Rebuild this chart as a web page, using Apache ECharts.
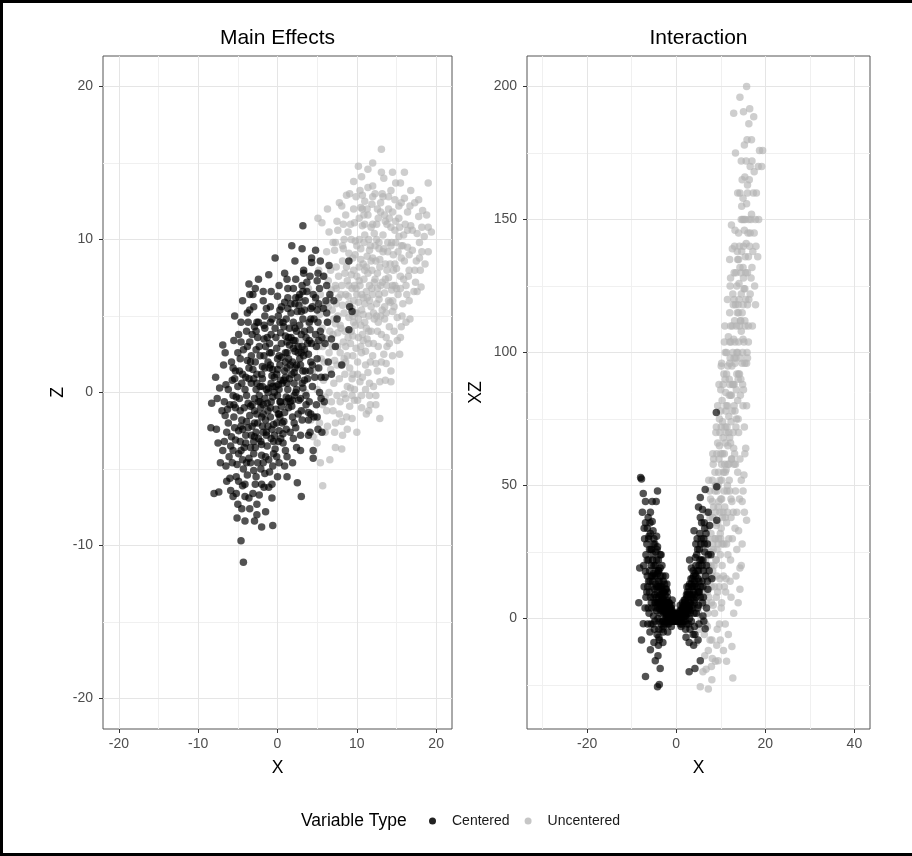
<!DOCTYPE html>
<html>
<head>
<meta charset="utf-8">
<script src="https://cdn.jsdelivr.net/npm/echarts@6/dist/echarts.min.js"></script>
<style>
html, body { margin: 0; padding: 0; background: #fff; }
#chart { width: 912px; height: 856px; }
</style>
</head>
<body>
<div id="chart"></div>
<script>
// tick values for both panels
const xMainTicks = [-20, -10, 0, 10, 20];
const xMainMinor = [-15, -5, 5, 15];
const zTicks = [-20, -10, 0, 10, 20];
const zMinor = [-15, -5, 5, 15];
const xIntTicks = [-20, 0, 20, 40];
const xIntMinor = [-30, -10, 10, 30];
const xzTicks = [0, 50, 100, 150, 200];
const xzMinor = [-25, 25, 75, 125, 175];

const legendNames = ["Centered", "Uncentered"];

// Main Effects, centered: [X, Z]
const centeredMain = [
  [-8.3,-0.7],[-8.4,-2.3],[-7.7,-2.4],[-7.8,1.0],[-7.3,0.3],[-6.9,3.1],[-5.8,2.0],[-6.7,-0.6],[-6.5,0.5],[-4.6,3.3],
  [-4.4,6.0],[-3.5,5.4],[-3.6,7.1],[-1.1,7.7],[0.9,7.8],[3.1,9.4],[3.2,10.9],[4.3,8.5],[5.4,8.6],[-1.8,6.0],
  [-2.6,4.6],[-8.0,-6.6],[-7.4,-6.5],[-5.6,-6.8],[-4.1,-6.8],[-2.3,-6.7],[-0.7,-6.9],[3.0,-6.8],[2.5,-5.9],[1.2,-5.5],
  [-6.0,-5.6],[-6.5,-4.8],[-6.9,-3.8],[-7.5,-3.3],[4.5,-3.8],[4.5,-4.3],[3.9,-1.8],[5.1,-2.4],[5.6,-2.6],[-4.6,-9.7],
  [-4.3,-11.1],[-2.9,-8.4],[-2.0,-8.8],[-0.6,-8.7],[-3.5,-7.6],[-5.0,-7.3],[-1.5,-7.8],[9.0,8.6],[9.1,5.6],[9.4,5.3],
  [9.0,4.1],[8.1,1.8],[6.5,8.3],[6.2,7.0],[7.1,6.0],[6.8,3.5],[7.5,4.8],[6.0,1.0],[5.8,5.5],[2.2,8.6],
  [1.8,9.6],[-0.3,8.8],[-2.4,7.4],[4.8,9.3],
  [-6.2,-2.0],[-5.9,-3.5],[-6.3,-1.1],[-5.7,0.8],[-6.1,-4.2],[-5.5,-1.6],[-5.8,-2.9],
  [-5.2,-0.3],[-4.9,-2.5],[-5.1,-4.7],[-4.8,1.4],[-5.3,-3.1],[-4.7,-1.2],[-5.0,2.6],[-4.9,-5.8],[-5.4,0.9],
  [-4.2,-3.6],[-3.9,-1.9],[-4.1,0.2],[-3.8,2.1],[-4.3,-5.0],[-3.7,-0.7],[-4.0,-2.8],[-3.9,4.0],[-4.4,1.2],[-3.6,-4.3],[-4.1,-6.0],[-3.8,3.0],
  [-3.2,-2.2],[-2.9,-0.4],[-3.1,1.5],[-2.8,-3.6],[-3.3,0.6],[-2.7,2.8],[-3.0,-5.1],[-2.6,-1.4],[-3.2,3.8],[-2.9,-2.9],[-3.4,-4.6],[-2.7,0.2],[-3.0,5.6],[-2.8,-6.0],
  [-2.1,-1.0],[-1.9,0.9],[-2.2,2.4],[-1.8,-2.6],[-2.0,-4.1],[-1.7,3.5],[-2.3,-0.2],[-1.9,1.7],[-2.1,-3.2],[-1.6,-5.3],[-2.4,4.6],[-1.8,-0.8],[-2.2,0.4],[-1.7,-6.2],
  [-1.1,0.3],[-0.9,-1.6],[-1.2,2.0],[-0.8,-3.0],[-1.0,3.2],[-1.3,-0.7],[-0.7,1.1],[-1.1,-4.4],[-0.9,4.6],[-1.2,-2.2],[-0.6,-0.3],[-1.4,5.5],[-0.8,2.6],[-1.0,-5.2],
  [0.1,0.5],[-0.2,-1.1],[0.3,1.8],[-0.1,2.9],[0.2,-2.5],[0.0,-0.2],[0.4,3.9],[-0.3,-3.7],[0.1,5.0],[0.2,-4.6],[-0.1,1.2],[0.3,-1.6],[0.0,6.3],[0.4,0.8],
  [0.9,1.4],[1.1,-0.3],[1.2,2.6],[0.8,-1.9],[1.0,3.7],[1.3,0.2],[0.7,-3.3],[1.1,4.8],[1.4,-1.0],[0.9,5.9],[1.2,-4.2],[1.0,1.0],[1.5,3.1],
  [1.9,2.0],[2.1,0.6],[2.2,3.4],[1.8,-0.9],[2.0,4.6],[2.3,-2.3],[1.7,5.8],[2.1,1.3],[2.4,-3.6],[2.0,6.8],[1.9,-1.6],[2.2,2.7],
  [2.9,1.8],[3.1,3.0],[2.8,4.4],[3.2,0.3],[3.0,-1.2],[2.7,5.7],[3.3,2.4],[3.1,7.0],[2.9,-2.8],[3.4,4.0],
  [3.9,2.5],[4.1,4.1],[3.8,0.9],[4.2,5.5],[4.0,-0.6],[3.7,6.6],[4.3,3.2],[4.1,7.6],
  [4.9,3.0],[5.1,4.6],[5.2,1.6],[4.8,6.2],[5.3,0.0],[5.0,7.3],
  [-3.5,-1.5],[-3.3,-2.8],[-2.5,-2.0],[-2.4,-0.6],[-2.6,1.2],[-1.5,-1.8],[-1.4,0.2],[-1.6,1.6],[-1.3,-3.5],[-0.5,-2.1],
  [-0.4,0.0],[-0.6,1.5],[-0.2,3.6],[0.5,-0.9],[0.6,0.6],[0.5,2.3],[0.7,-2.7],[1.5,0.9],[1.6,-0.6],[1.4,2.2],
  [1.7,3.6],[2.5,1.0],[2.6,2.6],[2.4,4.0],[2.7,-0.5],[3.5,1.4],[3.6,3.6],[3.4,5.4],[3.6,-0.2],[-3.6,0.9],
  [-4.5,-1.8],[-4.6,-3.8],[-5.6,-3.8],[-5.5,-0.8],[-3.0,-3.2],[-1.2,-1.2],[0.3,-0.6],[1.2,1.6],[2.3,0.0],[-2.0,-1.6],
  [-0.8,0.6],[0.8,4.3],[-1.6,4.2],[-3.4,2.0],[4.4,1.8],[4.6,4.8],[2.8,6.4],[-0.5,-4.0],[-2.5,-4.6],[-4.4,-4.4],
  [-6.4,-2.6],[-6.6,-1.5],[-6.2,0.2],[-6.7,-3.2],
  [-5.4,-2.3],[-5.6,-0.2],[-5.3,1.4],[-5.7,-4.6],[-5.2,-5.5],[-5.5,3.4],
  [-4.6,-2.2],[-4.8,-0.4],[-4.5,0.6],[-4.7,2.2],[-4.9,-4.0],[-4.4,-6.1],[-4.6,4.6],[-5.1,-8.2],
  [-3.7,-2.3],[-3.9,-0.2],[-3.6,1.6],[-3.8,-5.4],[-3.5,3.3],[-4.0,-3.3],[-3.6,-6.9],[-3.4,-0.9],[-3.8,5.2],
  [-2.7,-2.6],[-2.9,-1.2],[-2.6,0.6],[-2.8,2.0],[-3.0,-4.0],[-2.5,3.6],[-2.7,-5.5],[-2.9,4.3],[-2.6,-7.3],[-3.1,6.4],
  [-1.8,-1.4],[-1.6,-0.4],[-1.9,0.4],[-1.7,2.4],[-2.0,-3.4],[-1.5,3.0],[-1.8,-4.6],[-1.6,5.0],[-2.0,-6.0],[-1.4,-2.6],
  [-0.8,-0.6],[-0.6,0.4],[-0.9,1.8],[-0.7,-2.4],[-1.0,2.6],[-0.5,-3.2],[-0.8,3.8],[-0.6,-4.8],[-0.9,5.6],[-0.4,1.0],[-0.7,-6.0],
  [0.2,0.2],[0.0,1.5],[0.4,-0.6],[0.2,2.4],[-0.1,-2.0],[0.5,3.2],[0.1,-3.2],[0.3,4.6],[0.0,-5.5],[0.5,5.6],[0.2,-1.4],
  [1.2,0.6],[1.0,2.0],[1.4,-0.4],[1.2,3.3],[0.9,-1.3],[1.5,4.2],[1.1,-2.4],[1.3,5.5],[1.0,-3.8],[1.6,1.8],[1.3,6.8],
  [2.2,1.6],[2.0,2.9],[2.4,0.2],[2.2,4.2],[1.9,-0.5],[2.5,5.3],[2.1,-2.0],[2.3,6.2],[2.0,-3.0],[2.6,3.0],
  [3.2,1.4],[3.0,2.6],[3.4,0.8],[3.2,4.8],[2.9,-0.4],[3.5,6.0],[3.1,-1.8],[3.3,7.8],[3.0,5.3],
  [4.2,2.0],[4.0,3.4],[4.4,0.4],[4.2,4.8],[3.9,-1.3],[4.5,6.4],[4.1,-2.6],
  [5.2,3.4],[5.0,2.2],[5.4,4.0],[5.2,5.8],[4.9,-0.8],[5.5,1.0],[5.0,-1.6],
  [6.0,3.2],[6.3,4.6],[5.9,-0.6],[6.4,2.0],[6.1,6.0],
  [-7.0,-1.2],[-7.2,-4.6],[-6.8,1.8],[-7.6,-0.4],[-6.4,-5.8],[-6.0,-0.8],[-6.6,2.6],[-5.9,-6.4],
  [-5.3,-1.0],[-5.0,0.4],[-5.6,1.6],[-4.7,-3.2],[-5.2,-6.6],[-4.9,3.8],[-5.4,5.0],[-4.5,-7.6],
  [-4.2,-1.0],[-4.0,1.0],[-4.3,2.8],[-3.9,-4.6],[-4.4,-2.4],[-3.7,4.6],[-4.1,-8.4],[-3.5,6.4],
  [-3.2,-0.8],[-3.0,0.9],[-3.3,2.4],[-2.9,-2.0],[-3.4,-3.6],[-2.7,4.0],[-3.1,-6.6],[-2.8,6.8],
  [-2.2,-0.6],[-2.0,1.2],[-2.3,3.0],[-1.9,-2.2],[-2.4,-3.0],[-1.7,4.4],[-2.1,-5.0],[-1.8,6.6],[-2.6,-8.0],
  [-1.2,0.0],[-1.0,1.6],[-1.3,3.6],[-0.9,-1.0],[-1.4,-2.8],[-0.7,4.8],[-1.1,-6.2],[-0.8,6.6],[-1.5,-4.2],
  [-0.2,0.4],[0.0,2.2],[-0.3,4.2],[0.1,-1.4],[-0.4,-2.8],[0.3,5.4],[-0.1,-4.2],[0.2,7.0],[0.4,-3.0],
  [0.8,0.8],[1.0,2.6],[0.7,4.6],[1.1,-0.6],[0.6,-2.0],[1.3,6.2],[0.9,-4.8],[1.2,7.4],[1.4,3.6],
  [1.8,1.2],[2.0,3.4],[1.7,5.2],[2.1,-0.2],[1.6,-2.6],[2.3,7.4],[1.9,-4.6],[2.4,1.8],[2.2,5.8],
  [2.8,2.2],[3.0,3.8],[2.7,6.2],[3.1,0.6],[2.6,-1.4],[3.3,8.0],[2.9,-3.8],[3.4,2.8],[3.2,6.6],
  [3.8,3.2],[4.0,4.6],[3.7,7.2],[4.1,1.4],[3.6,-0.8],[4.3,8.8],[3.9,-2.8],[4.4,5.6],[4.2,-1.4],
  [4.8,3.8],[5.0,5.4],[4.7,1.0],[5.1,7.8],[4.6,-1.6],[5.3,6.8],[5.6,3.6],[5.8,7.6],[5.5,-0.4],[6.2,5.2],
  [6.6,6.4],[6.8,1.2],[7.3,3.0]
];

// Main Effects, uncentered: [X, Z]
const uncenteredMain = [
  [5.6,11.1],[6.5,10.5],[8.3,11.0],[7.3,9.8],[19.0,10.8],[19.4,10.5],[19.0,9.2],[18.1,6.9],[17.2,6.6],[16.6,6.0],
  [16.7,4.8],[15.6,4.3],[15.5,3.6],[15.4,2.5],[14.5,2.4],[14.3,1.4],[14.3,0.7],[12.9,0.7],[12.9,-1.7],[12.4,-0.8],
  [9.4,-1.7],[8.2,-2.8],[8.1,-3.7],[7.3,-3.6],[5.7,-6.1],[5.4,-4.6],[4.5,-2.9],
  [13.1,15.9],[13.1,14.4],[14.9,13.7],[15.5,13.7],[10.6,14.1],[10.7,12.9],[8.7,12.9],[7.8,12.4],[19.0,13.7],[16.0,12.7],
  [6.3,12.0],[5.1,11.4],[16.8,13.2],[12.0,13.5],[17.8,11.5],[14.0,12.8],
  [2.1,4.4],[2.3,3.0],[3.2,5.9],[2.6,1.6],[3.5,0.0],[4.2,-1.8],[3.3,-1.2],[5.0,-3.3],[6.6,-4.4],[10.0,-2.6],[11.2,-1.4],[6.2,-1.2],
  [6.1,3.5],[5.9,2.0],[6.3,4.6],[5.8,0.8],[6.2,5.8],[6.0,-0.3],[6.4,7.3],[5.7,3.0],
  [7.0,3.8],[7.2,2.1],[6.9,5.4],[7.1,0.6],[6.8,6.7],[7.3,4.5],[7.0,-1.2],[7.4,8.2],[6.7,1.5],[7.2,9.3],
  [8.0,4.2],[7.9,2.6],[8.2,5.7],[7.8,0.9],[8.1,7.0],[8.3,3.3],[7.9,-0.6],[8.2,8.6],[8.0,1.8],[7.7,6.2],[8.4,10.0],[8.1,-1.9],
  [9.0,4.9],[9.2,3.2],[8.9,6.3],[9.1,1.6],[9.3,7.7],[8.8,2.4],[9.0,9.1],[9.2,0.3],[9.4,5.5],[8.9,10.5],[9.1,-0.9],[9.3,4.0],[8.7,8.2],
  [10.0,5.2],[10.2,3.6],[9.9,6.8],[10.1,2.0],[10.3,8.2],[9.8,4.4],[10.0,9.6],[10.4,0.7],[10.2,5.9],[9.7,11.1],[10.1,-0.5],[10.3,7.3],[9.9,2.9],[10.5,12.1],
  [11.0,5.8],[11.2,4.2],[10.9,7.4],[11.1,2.7],[11.3,8.9],[10.8,5.1],[11.0,10.3],[11.4,1.3],[11.2,6.6],[10.9,11.6],[11.1,0.2],[11.3,3.5],[11.0,12.5],
  [12.0,6.4],[12.2,4.8],[11.9,8.0],[12.1,3.2],[12.3,9.6],[11.8,5.6],[12.0,11.0],[12.4,1.9],[12.2,7.2],[11.9,12.3],[12.1,0.4],
  [13.0,7.0],[13.2,5.4],[12.9,8.7],[13.1,3.8],[13.3,10.3],[12.8,6.1],[13.0,11.8],[13.4,2.5],[13.2,13.0],
  [14.0,7.5],[14.2,5.9],[13.9,9.2],[14.1,4.3],[14.3,10.8],[13.8,3.0],[14.0,12.0],[14.4,6.7],
  [15.0,8.1],[15.2,6.4],[14.9,9.8],[15.1,4.9],[15.3,11.4],[14.8,12.6],
  [16.0,8.6],[16.2,7.0],[15.9,10.3],[16.4,11.8],[17.0,9.3],[17.3,8.0],[16.8,10.9],[17.9,9.8],[18.3,11.9],[18.6,8.4],
  [2.8,3.4],[3.6,2.6],[4.0,4.5],[4.4,1.4],[4.8,6.0],[3.9,6.8],[4.6,3.3],[5.2,8.0],[5.0,0.2],[5.3,5.1],
  [7.6,3.0],[7.6,5.0],[8.5,4.0],[8.6,6.4],[8.6,2.0],[9.5,3.7],[9.6,6.0],[9.6,8.0],[9.5,1.2],[10.5,4.4],
  [10.6,6.4],[10.5,8.7],[10.6,2.6],[11.5,5.0],[11.6,7.0],[11.6,9.3],[11.5,3.2],[12.5,5.8],[12.6,7.8],[12.5,10.0],
  [12.6,4.0],[13.5,6.5],[13.6,8.4],[13.5,4.8],[14.5,7.0],[14.6,9.0],[14.5,5.3],[15.5,7.6],[15.6,9.6],[10.0,7.6],
  [11.0,8.0],[12.0,8.8],[9.0,5.8],[10.8,3.4],[12.8,9.4],[13.8,11.0],[8.8,7.3],[11.8,10.8],[7.4,6.8],[14.8,10.6],
  [9.8,9.9],[10.7,10.9],[11.4,11.6],[12.6,12.0],[16.4,9.5],[15.8,5.8],[13.7,1.9],[11.6,-0.2],[9.7,0.2],[8.6,-0.4],
  [5.5,2.2],[5.6,4.2],[5.4,6.4],[5.7,-0.8],
  [6.5,2.6],[6.6,4.0],[6.4,5.6],[6.5,0.0],[6.7,8.0],[6.3,-2.2],
  [7.5,1.8],[7.6,3.9],[7.4,5.8],[7.5,-0.2],[7.7,7.6],[7.3,-2.0],[7.6,10.6],
  [8.5,1.2],[8.6,3.0],[8.4,5.2],[8.5,7.8],[8.7,-1.6],[8.3,9.4],[8.6,11.6],[8.4,-0.1],
  [9.5,2.4],[9.6,4.6],[9.4,6.8],[9.5,8.8],[9.7,-0.5],[9.3,10.0],[9.6,12.0],[9.4,0.9],[9.8,5.2],
  [10.5,3.0],[10.6,5.4],[10.4,7.0],[10.5,9.4],[10.7,1.0],[10.3,11.4],[10.6,-1.0],[10.4,13.2],[10.8,6.2],
  [11.5,4.0],[11.6,6.0],[11.4,7.8],[11.5,10.0],[11.7,2.0],[11.3,12.0],[11.6,0.6],[11.4,13.4],[11.8,8.6],
  [12.5,5.0],[12.6,6.8],[12.4,8.6],[12.5,11.0],[12.7,3.0],[12.3,13.0],[12.6,1.4],[12.8,9.8],
  [13.5,5.6],[13.6,7.4],[13.4,9.4],[13.5,11.6],[13.7,3.6],[13.3,12.8],[13.6,0.8],[13.8,8.0],
  [14.5,6.0],[14.6,8.0],[14.4,9.8],[14.5,11.8],[14.7,4.0],[14.3,13.2],[14.8,7.0],
  [15.5,6.8],[15.6,8.8],[15.4,10.8],[15.7,5.0],[15.3,12.2],[15.8,9.6],
  [16.5,7.6],[16.6,9.0],[16.4,10.6],[16.7,12.2],[16.3,6.4],
  [17.5,8.6],[17.6,10.4],[17.4,7.2],[17.8,12.6],
  [18.2,9.2],[18.5,10.2],[18.0,8.0],
  [4.9,1.6],[5.2,3.0],[5.6,5.6],[5.9,7.6],[6.0,-2.6],[5.3,-2.0],[6.2,9.2],[6.8,-0.6],[6.9,3.0],[6.6,6.2],
  [7.1,4.8],[7.3,7.0],[7.0,9.8],[7.5,11.2],[7.8,-1.4],[7.9,4.4],[8.0,6.4],[8.2,9.6],[8.1,12.2],[8.4,2.2],
  [8.8,0.4],[8.9,3.6],[9.0,7.0],[9.2,11.0],[9.1,13.0],[9.4,-0.2],[9.5,5.0],[9.7,7.0],[9.8,9.0],[9.9,12.8],
  [10.1,1.2],[10.2,4.8],[10.0,6.4],[10.3,10.0],[10.2,14.8],[10.6,-0.2],[10.7,3.8],[10.8,8.4],[10.9,9.8],[10.7,12.0],
  [11.1,1.8],[11.0,4.6],[11.3,6.2],[11.2,8.2],[11.0,11.0],[11.4,14.6],[11.7,-0.8],[11.8,4.0],[11.9,6.8],[11.7,9.6],
  [12.0,2.4],[12.1,5.2],[12.3,7.4],[12.2,10.4],[12.0,12.8],[12.4,-0.2],[12.7,4.6],[12.8,6.4],[12.9,8.2],[12.7,11.4],
  [13.1,2.0],[13.0,5.0],[13.2,7.2],[13.3,9.2],[13.0,12.4],[13.4,14.0],[13.7,5.2],[13.8,7.0],[13.9,9.8],[13.6,11.2],
  [14.1,3.2],[14.0,6.0],[14.2,8.4],[14.3,9.6],[14.1,11.4],[14.5,14.4],[14.7,5.6],[14.8,8.4],[14.9,11.2],[15.1,3.4],
  [15.0,6.8],[15.2,9.2],[15.3,10.2],[15.6,12.4],[15.9,7.4],[16.1,11.0],[16.2,4.6],[16.6,8.0],[17.0,10.6],[17.3,12.4],
  [17.6,6.6],[17.9,8.8],[18.2,10.8],[18.8,11.6],[16.0,14.4],[12.0,15.0],[9.6,13.8],[8.8,-2.4],[11.5,-1.2],[7.2,-2.6]
];

// Interaction, centered: [X, XZ]
const centeredInt = [
  [-8.0,53.0],[-7.8,52.5],[-7.4,47],[-4.2,48],[-5.4,44],[-4.5,44],[-5.8,40],[-5.4,36.5],[-8.2,19],[-6.9,17.7],
  [-8.4,6],[-7.4,-1.9],[-7.8,-8],[-5.8,-11.7],[-4.7,-15.8],[-3.6,-18.8],[-6.9,-21.8],[-4.2,-25.6],[-3.8,-24.8],
  [5.4,45.5],[6.5,48.5],[9.1,49.6],[9.1,37],[8.0,15],[7.1,11],[6.5,-3.8],[5.4,-15.8],[4.2,-18.8],[2.9,-20],[9.0,77.5],
  [-7.1,30],[-6.8,24],[-7.2,12],[-6.9,36],[-7.0,4],[-6.6,28],[-7.3,20],
  [-6.2,22],[-5.9,14],[-6.1,31],[-5.8,8],[-6.3,38],[-6.0,18],[-5.7,26],[-6.1,2],[-5.9,-5],[-6.4,12],
  [-5.1,17],[-4.9,11],[-5.2,24],[-4.8,6],[-5.0,30],[-5.3,14],[-4.7,20],[-5.1,1],[-4.9,-4],[-5.2,33],[-4.8,9],[-5.0,-9],[-4.6,25],
  [-4.1,12],[-3.9,8],[-4.2,17],[-3.8,4],[-4.0,22],[-4.3,10],[-3.7,14],[-4.1,0],[-3.9,-4],[-4.2,27],[-3.8,6],[-4.0,-10],[-3.6,19],[-4.4,31],[-4.1,-14],
  [-3.1,8],[-2.9,5],[-3.2,12],[-2.8,2],[-3.0,16],[-3.3,7],[-2.7,10],[-3.1,-1],[-2.9,-5],[-3.2,20],[-2.8,4],[-3.0,-9],[-2.6,13],[-3.4,24],
  [-2.1,4],[-1.9,2],[-2.2,7],[-1.8,0],[-2.0,10],[-2.3,5],[-1.7,-2],[-2.1,13],[-1.9,-5],[-2.2,1],[-1.6,6],[-2.4,16],
  [-1.1,1],[-0.9,0],[-1.2,3],[-0.8,-1],[-1.0,5],[-1.3,2],[-0.7,1],[-1.1,-3],[-0.9,7],[-1.4,4],
  [-0.3,0],[0.2,0],[-0.2,1],[0.3,1],[0.0,-1],[-0.4,2],[0.4,-1],[0.1,2],
  [0.9,1],[1.1,2],[1.2,0],[0.8,3],[1.0,-1],[1.3,4],[0.7,1],[1.1,-3],[1.4,6],[0.9,5],
  [1.9,3],[2.1,5],[2.2,1],[1.8,7],[2.0,-1],[2.3,9],[1.7,4],[2.1,-4],[2.4,12],[2.0,2],[2.2,-7],
  [2.9,6],[3.1,9],[3.2,3],[2.8,12],[3.0,0],[3.3,15],[2.7,7],[3.1,-4],[3.4,19],[2.9,-9],[3.0,22],
  [3.9,10],[4.1,14],[4.2,6],[3.8,18],[4.0,2],[4.3,23],[3.7,12],[4.1,-3],[4.4,28],[3.9,-10],[4.0,33],[4.2,17],
  [4.9,15],[5.1,20],[5.2,10],[4.8,26],[5.0,5],[5.3,32],[4.7,18],[5.1,-2],[5.4,38],[4.9,-8],[5.0,42],
  [6.0,22],[6.2,30],[5.8,14],[6.1,8],[6.3,36],[5.9,41],[6.0,1],[6.4,25],
  [7.0,28],[7.2,40],[6.8,20],[7.5,35],[7.8,24],
  [-0.5,0],[-0.6,1],[-1.5,2],[-1.6,0],[-1.7,4],[-2.5,3],[-2.6,6],[-2.4,0],[-3.5,5],[-3.4,9],
  [-3.6,2],[-4.5,8],[-4.6,13],[-4.4,3],[-5.5,12],[-5.6,20],[-6.5,16],[0.5,0],[0.6,1],[1.5,1],
  [1.6,3],[1.7,-1],[2.5,2],[2.6,5],[2.4,8],[3.5,5],[3.6,9],[3.4,13],[4.5,8],[4.6,12],
  [4.4,20],[5.5,12],[5.6,22],[-1.3,-1],[1.3,-2],[-2.8,-3],[2.8,-2],[3.8,-6],[-3.9,-7],[-0.4,-1],
  [0.3,-1],[-1.0,1],[1.0,1],[-2.0,5],[2.0,4],[3.0,4],[-3.0,3],[4.0,7],[-4.0,6],[5.0,10],
  [-6.8,8],[-6.5,22],[-6.2,30],[-6.4,-2],[-6.0,10],[-5.8,32],[-5.6,6],[-5.5,26],[-5.4,16],[-5.2,-2],
  [-5.0,20],[-4.8,28],[-4.7,4],[-4.6,16],[-4.4,22],[-4.3,-6],[-4.2,6],[-4.0,14],[-3.9,18],[-3.8,-1],
  [-3.7,9],[-3.6,24],[-3.5,12],[-3.3,3],[-3.2,-4],[-3.0,10],[-2.9,14],[-2.8,7],[-2.6,-2],[-2.5,9],
  [-2.3,2],[-2.2,11],[-2.0,-2],[-1.9,6],[-1.8,3],[-1.6,-1],[-1.5,5],[-1.4,0],[-1.2,-1],[-1.1,4],
  [-0.9,2],[-0.8,1],[-0.6,-1],[-0.5,2],
  [0.6,-1],[0.8,0],[1.0,3],[1.2,2],[1.4,-1],[1.6,5],[1.8,1],[2.0,7],[2.2,3],[2.4,-2],
  [2.6,9],[2.8,4],[3.0,13],[3.2,6],[3.4,-1],[3.6,15],[3.8,8],[4.0,12],[4.2,-6],[4.4,16],
  [4.6,24],[4.8,4],[5.0,18],[5.2,26],[5.4,8],[5.6,30],[5.8,20],[6.0,12],[6.2,-1],[6.4,34],
  [6.6,16],[6.8,4],[7.2,24],
  [-7.6,40],[-7.2,34],[-6.9,44],[-6.6,10],[-6.5,34],[-6.3,4],[-6.2,14],[-6.0,26],[-5.9,36],[-5.7,-2],
  [-5.6,16],[-5.5,4],[-5.3,22],[-5.2,8],[-5.1,28],[-4.9,16],[-4.8,-1],[-4.6,6],[-4.5,18],[-4.4,12],
  [-4.3,26],[-4.1,4],[-4.0,18],[-3.9,12],[-3.8,-8],[-3.7,6],[-3.5,16],[-3.4,-2],[-3.3,11],[-3.2,4],
  [-3.0,7],[-2.9,-1],[-2.8,10],[-2.7,3],[-2.5,6],[-2.4,11],[-2.3,-1],[-2.1,1],[-2.0,8],[-1.9,-1],
  [-1.7,6],[-1.5,3],[-1.3,0],[-1.1,2],[-0.9,3],[-0.7,0],[-0.5,-1],[-0.2,0],[0.2,1],[0.5,2],
  [0.7,0],[0.9,-2],[1.1,1],[1.3,2],[1.5,4],[1.7,2],[1.9,6],[2.1,1],[2.3,5],[2.5,10],
  [2.7,3],[2.9,10],[3.1,2],[3.3,8],[3.5,12],[3.7,4],[3.9,16],[4.1,9],[4.3,13],[4.5,2],
  [4.7,30],[4.9,10],[5.1,14],[5.3,22],[5.5,28],[5.7,36],[5.9,6],[6.1,18],[6.3,28],[6.7,32],
  [7.4,18],[7.0,14]
];

// Interaction, uncentered: [X, XZ]
const uncenteredInt = [
  [15.8,200],[14.3,196],[12.9,190],[15.1,190.5],[16.5,191.7],[17.4,188.7],[18.7,176],[19.4,176],[5.4,-25.6],[7.2,-26.5],
  [8.0,-23],[12.7,-22.3],[6.7,-19],[9.4,-15.8],[12.5,-10.5],
  [14.6,172],[15.4,166],[13.8,160],[16.0,163],[14.9,150],[13.2,146],[16.9,152],[12.6,139],[15.7,141],[17.6,125],[18.3,136],[12.2,128],
  [15.2,54],[15.8,37],[14.3,19],[14.3,11],[12.9,2],[13.6,26],[14.8,44],[14.0,33],
  [4.1,5],[4.8,12],[5.2,-4],[5.5,20],[4.5,-9],[5.9,28],[5.7,8],[6.1,15],[6.3,-6],[5.0,2],
  [6.9,18],[7.1,30],[7.3,8],[6.8,40],[7.0,-3],[7.4,24],[7.2,-12],[6.7,12],[7.5,48],[7.1,2],
  [8.0,25],[8.2,38],[7.9,12],[8.1,52],[8.3,5],[7.8,32],[8.0,-8],[8.4,60],[8.2,18],[7.7,45],[8.1,-15],
  [9.0,35],[9.2,48],[8.9,22],[9.1,62],[9.3,10],[8.8,40],[9.0,72],[9.4,28],[9.2,-4],[8.7,55],[9.1,16],[9.3,80],
  [10.0,45],[10.2,58],[9.9,32],[10.1,72],[10.3,20],[9.8,52],[10.0,86],[10.4,38],[10.2,6],[9.7,65],[10.1,95],[10.3,28],[9.9,-8],
  [11.0,55],[11.2,70],[10.9,42],[11.1,85],[11.3,28],[10.8,62],[11.0,100],[11.4,48],[11.2,15],[10.9,110],[11.1,78],[11.3,36],[11.0,-2],
  [12.0,68],[12.2,84],[11.9,52],[12.1,98],[12.3,38],[11.8,76],[12.0,115],[12.4,60],[12.2,22],[11.9,90],[12.1,125],[12.3,45],
  [13.0,80],[13.2,96],[12.9,64],[13.1,112],[13.3,48],[12.8,88],[13.0,130],[13.4,72],[13.2,34],[12.9,105],[13.1,140],[13.3,58],
  [14.0,92],[14.2,110],[13.9,75],[14.1,126],[14.3,60],[13.8,100],[14.0,145],[14.4,84],[14.2,45],[13.9,118],
  [15.0,105],[15.2,124],[14.9,88],[15.1,140],[15.3,72],[14.8,115],[15.0,158],[15.4,96],
  [16.0,118],[16.2,136],[15.9,100],[16.3,150],[16.8,128],[17.1,110],[16.6,170],[17.5,145],[18.0,160],[17.8,118],[18.5,150],[19.2,170],
  [8.5,20],[8.6,30],[9.5,30],[9.6,44],[9.5,55],[10.5,40],[10.6,55],[10.5,68],[11.5,50],[11.6,65],
  [11.5,80],[11.6,95],[12.5,60],[12.6,78],[12.5,95],[12.6,110],[13.5,75],[13.6,92],[13.5,110],[13.6,125],
  [14.5,90],[14.6,108],[14.5,130],[14.6,150],[15.5,110],[15.6,130],[15.5,150],[16.5,140],[10.0,62],[11.0,72],
  [12.0,88],[13.0,98],[14.0,115],[7.5,15],[7.6,25],[6.5,10],[6.6,22],[9.0,50],[10.0,78],[11.0,90],
  [12.0,104],[13.0,120],[14.0,135],[15.0,132],[16.0,160],[9.8,15],[10.8,12],[11.8,30],[12.8,40],[13.8,55],
  [6.0,5],[6.2,18],[6.4,30],[5.8,12],[6.6,-2],
  [7.0,10],[7.2,20],[7.4,35],[6.8,28],[7.6,-8],[7.3,52],
  [8.0,16],[8.2,28],[8.4,42],[7.8,20],[8.6,2],[8.3,58],[8.7,48],
  [9.0,22],[9.2,36],[9.4,50],[8.8,30],[9.6,12],[9.3,66],[9.7,75],[9.1,-10],
  [10.0,30],[10.2,45],[10.4,62],[9.8,40],[10.6,16],[10.3,82],[10.7,92],[10.1,4],
  [11.0,38],[11.2,56],[11.4,72],[10.8,48],[11.6,24],[11.3,92],[11.7,106],[11.1,10],
  [12.0,48],[12.2,66],[12.4,84],[11.8,58],[12.6,30],[12.3,104],[12.7,122],[12.1,14],
  [13.0,58],[13.2,78],[13.4,98],[12.8,70],[13.6,40],[13.3,118],[13.7,138],
  [14.0,70],[14.2,92],[14.4,112],[13.8,82],[14.6,52],[14.3,132],[14.7,155],
  [15.0,80],[15.2,104],[15.4,124],[14.8,96],[15.6,64],[15.3,146],[15.7,172],
  [16.0,98],[16.3,120],[16.6,145],[17.0,132],[17.3,160],[17.9,140],[18.4,170],[16.9,180],
  [4.6,2],[5.0,10],[5.3,16],[5.6,0],[5.9,22],[6.2,8],[6.5,26],[6.8,6],[7.0,34],[7.3,16],
  [7.6,38],[7.9,6],[8.1,44],[8.3,26],[8.6,12],[8.8,50],[9.0,8],[9.2,26],[9.4,42],[9.6,60],
  [9.8,70],[9.9,24],[10.1,34],[10.2,52],[10.4,74],[10.5,88],[10.7,28],[10.9,58],[11.0,66],[11.2,80],
  [11.3,100],[11.5,40],[11.6,58],[11.8,70],[11.9,84],[12.0,96],[12.2,110],[12.3,74],[12.5,44],[12.6,88],
  [12.7,100],[12.8,118],[13.0,88],[13.1,62],[13.2,104],[13.4,130],[13.5,86],[13.6,100],[13.7,115],[13.8,135],
  [13.9,90],[14.0,104],[14.1,120],[14.2,140],[14.3,160],[14.4,98],[14.5,112],[14.6,122],[14.7,138],[14.8,165],
  [14.9,100],[15.0,118],[15.1,128],[15.2,150],[15.3,178],[15.4,112],[15.5,136],[15.6,120],[15.8,156],[15.9,180],
  [16.0,130],[16.1,145],[16.2,110],[16.4,165],[16.6,122],[16.8,150],[17.0,172],[17.2,138],[17.5,168],[17.8,150],
  [16.3,186],[13.3,175],[12.4,148],[12.0,135],[11.5,120],[10.8,104],[10.2,96],[9.6,88],[8.9,70],[8.2,62],
  [13.4,16],[12.3,8],[11.7,-6],[10.6,-12],[9.7,-2],[8.8,-16],[7.9,-18],[6.4,-14],[6.0,-20],[11.3,-16],
  [14.8,28],[15.3,40],[15.4,62],[15.8,80],[15.8,96],[16.2,104],[14.6,20],[13.9,6],[15.0,48],[15.1,86]
];

const FONT = "'Liberation Sans', Arial, sans-serif";

// background grid lines, drawn through the axes
function gridLines(idx, xMajor, xMinor, yMajor, yMinor) {
  const major = { color: "#e5e5e5", width: 1, type: "solid" };
  const minor = { color: "#f0f0f0", width: 1, type: "solid" };
  const lines = [];
  xMinor.forEach(v => lines.push({ xAxis: v, lineStyle: minor }));
  yMinor.forEach(v => lines.push({ yAxis: v, lineStyle: minor }));
  xMajor.forEach(v => lines.push({ xAxis: v, lineStyle: major }));
  yMajor.forEach(v => lines.push({ yAxis: v, lineStyle: major }));
  return {
    type: "scatter", name: "grid" + idx, xAxisIndex: idx, yAxisIndex: idx,
    data: [], silent: true, z: 1,
    markLine: { z: 1, silent: true, symbol: ["none", "none"], label: { show: false }, animation: false, data: lines }
  };
}

function xAxisOf(idx, min, max, ticks) {
  return {
    type: "value", gridIndex: idx, min: min, max: max,
    name: "X", nameLocation: "middle", nameGap: 30,
    nameTextStyle: { fontSize: 17.5, color: "#000", fontFamily: FONT },
    axisLine: { show: false, onZero: false },
    splitLine: { show: false },
    axisTick: { show: true, customValues: ticks, length: 4, lineStyle: { color: "#333" } },
    axisLabel: { customValues: ticks, fontSize: 14, color: "#4d4d4d", margin: 8, fontFamily: FONT }
  };
}

function yAxisOf(idx, name, gap, min, max, ticks) {
  return {
    type: "value", gridIndex: idx, min: min, max: max,
    name: name, nameLocation: "middle", nameGap: gap,
    nameTextStyle: { fontSize: 17.5, color: "#000", fontFamily: FONT },
    axisLine: { show: false, onZero: false },
    splitLine: { show: false },
    axisTick: { show: true, customValues: ticks, length: 4, lineStyle: { color: "#333" } },
    axisLabel: { customValues: ticks, fontSize: 14, color: "#4d4d4d", margin: 10, fontFamily: FONT }
  };
}

function points(idx, name, data, color, opacity, z) {
  return {
    type: "scatter", name: name, xAxisIndex: idx, yAxisIndex: idx,
    data: data, symbolSize: 7.5, z: z,
    itemStyle: { color: color, opacity: opacity }
  };
}

const option = {
  animation: false,
  backgroundColor: "#fff",
  textStyle: { fontFamily: FONT },
  grid: [
    { left: 103, top: 56, width: 349, height: 673, show: true, borderColor: "#555", borderWidth: 1, backgroundColor: "transparent" },
    { left: 527, top: 56, width: 343, height: 673, show: true, borderColor: "#555", borderWidth: 1, backgroundColor: "transparent" }
  ],
  xAxis: [
    xAxisOf(0, -22, 22, xMainTicks),
    xAxisOf(1, -33.5, 43.5, xIntTicks)
  ],
  yAxis: [
    yAxisOf(0, "Z", 36, -22, 22, zTicks),
    yAxisOf(1, "XZ", 42, -41.5, 211.5, xzTicks)
  ],
  legend: {
    data: [
      { name: legendNames[0], itemStyle: { color: "#222", opacity: 1 } },
      { name: legendNames[1], itemStyle: { color: "#c6c6c6", opacity: 1 } }
    ],
    icon: "circle",
    left: 429, top: 814, padding: 0,
    itemWidth: 7, itemHeight: 7, itemGap: 15,
    textStyle: { fontSize: 14, color: "#1a1a1a", fontFamily: FONT, padding: [0, 0, 0, 11] },
    selectedMode: false
  },
  graphic: [
    { type: "text", x: 277.5, y: 38, style: { text: "Main Effects", fontSize: 21, fill: "#000", align: "center", verticalAlign: "middle", fontFamily: FONT } },
    { type: "text", x: 698.5, y: 38, style: { text: "Interaction", fontSize: 21, fill: "#000", align: "center", verticalAlign: "middle", fontFamily: FONT } },
    { type: "text", x: 301, y: 821, style: { text: "Variable Type", fontSize: 17.5, fill: "#000", verticalAlign: "middle", fontFamily: FONT } },
    // outer frame
    { type: "polyline", shape: { points: [[1.5, 860], [1.5, 1.5], [915, 1.5]] }, style: { stroke: "#000", lineWidth: 3, fill: null } },
    { type: "line", shape: { x1: 0, y1: 854.5, x2: 915, y2: 854.5 }, style: { stroke: "#000", lineWidth: 3 } }
  ],
  series: [
    gridLines(0, xMainTicks, xMainMinor, zTicks, zMinor),
    gridLines(1, xIntTicks, xIntMinor, xzTicks, xzMinor),
    points(0, "Uncentered", uncenteredMain, "#b3b3b3", 0.64, 2),
    points(0, "Centered", centeredMain, "#000", 0.68, 3),
    points(1, "Uncentered", uncenteredInt, "#b3b3b3", 0.64, 2),
    points(1, "Centered", centeredInt, "#000", 0.68, 3)
  ]
};

echarts.init(document.getElementById("chart")).setOption(option);
</script>
</body>
</html>
